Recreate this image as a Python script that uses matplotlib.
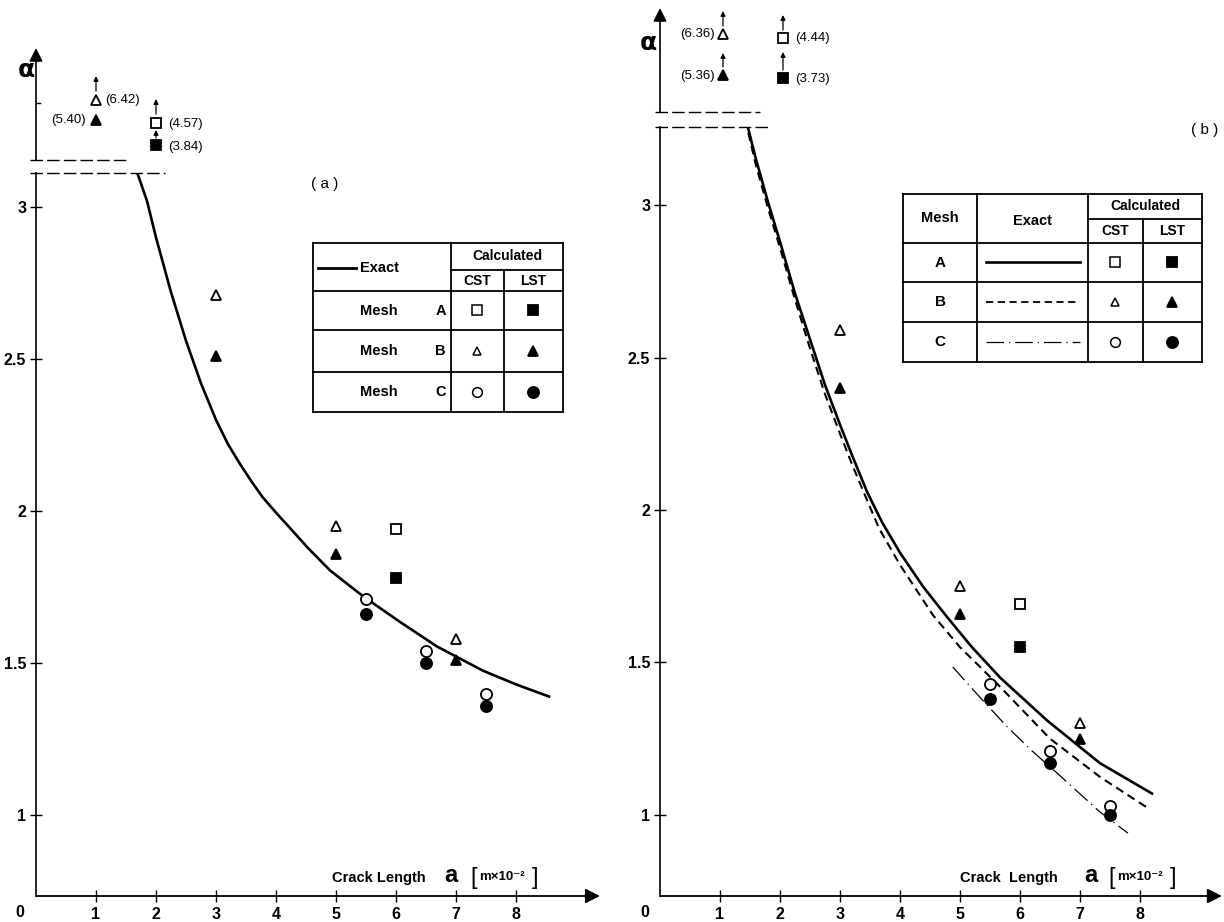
import matplotlib.pyplot as plt

plt.rcParams['font.family'] = ['Liberation Sans', 'DejaVu Sans']
plt.rcParams['font.weight'] = 'bold'

W, H = 1224, 922

crack_ticks = [1, 2, 3, 4, 5, 6, 7, 8]
k_ticks = [1, 1.5, 2, 2.5, 3]
k_tick_labels = ['1', '1.5', '2', '2.5', '3']

# ---------- panel (a)
a_exact_x = [1.64, 1.85, 2.0, 2.25, 2.5, 2.75, 3.0, 3.2, 3.4, 3.6, 3.78, 4.0, 4.23, 4.55, 4.9, 5.45, 6.07, 6.68, 7.45, 8.0, 8.55]
a_exact_k = [3.14, 3.02, 2.90, 2.72, 2.56, 2.42, 2.30, 2.22, 2.155, 2.095, 2.045, 1.995, 1.945, 1.875, 1.805, 1.72, 1.635, 1.555, 1.475, 1.43, 1.39]

a_cst_tri_x = [3, 5, 7]
a_cst_tri_k = [2.71, 1.95, 1.58]
a_lst_tri_x = [3, 5, 7]
a_lst_tri_k = [2.51, 1.86, 1.51]
a_cst_sq_x = [6]
a_cst_sq_k = [1.94]
a_lst_sq_x = [6]
a_lst_sq_k = [1.78]
a_cst_circ_x = [5.5, 6.5, 7.5]
a_cst_circ_k = [1.71, 1.54, 1.40]
a_lst_circ_x = [5.5, 6.5, 7.5]
a_lst_circ_k = [1.66, 1.50, 1.36]
# off-scale values (mesh B at a=1, mesh A at a=2)
a_off_tri_x = 1
a_off_tri = (6.42, 5.40)      # CST, LST
a_off_sq_x = 2
a_off_sq = (4.57, 3.84)

# ---------- panel (b)
b_exact_a_x = [1.42, 1.6, 1.8, 2.0, 2.25, 2.5, 2.75, 3.0, 3.2, 3.45, 3.7, 4.0, 4.38, 4.78, 5.2, 5.67, 6.45, 7.33, 8.2]
b_exact_a_k = [3.29, 3.15, 3.01, 2.88, 2.71, 2.56, 2.41, 2.28, 2.18, 2.06, 1.96, 1.86, 1.75, 1.65, 1.55, 1.45, 1.31, 1.17, 1.07]
b_exact_b_x = [1.42, 1.6, 1.8, 2.0, 2.25, 2.5, 2.75, 3.0, 3.2, 3.37, 3.65, 4.0, 4.55, 5.0, 5.62, 6.5, 7.33, 8.15]
b_exact_b_k = [3.28, 3.13, 2.99, 2.86, 2.69, 2.53, 2.38, 2.25, 2.15, 2.07, 1.94, 1.82, 1.655, 1.55, 1.43, 1.25, 1.125, 1.02]
b_exact_c_x = [4.88, 5.22, 5.78, 6.2, 6.63, 7.33, 7.8]
b_exact_c_k = [1.485, 1.41, 1.29, 1.21, 1.135, 1.01, 0.94]

b_cst_tri_x = [3, 5, 7]
b_cst_tri_k = [2.59, 1.75, 1.30]
b_lst_tri_x = [3, 5, 7]
b_lst_tri_k = [2.40, 1.66, 1.25]
b_cst_sq_x = [6]
b_cst_sq_k = [1.69]
b_lst_sq_x = [6]
b_lst_sq_k = [1.55]
b_cst_circ_x = [5.5, 6.5, 7.5]
b_cst_circ_k = [1.43, 1.21, 1.03]
b_lst_circ_x = [5.5, 6.5, 7.5]
b_lst_circ_k = [1.38, 1.17, 1.00]
b_off_tri_x = 1.05
b_off_tri = (6.36, 5.36)
b_off_sq_x = 2.05
b_off_sq = (4.44, 3.73)


fig = plt.figure(figsize=(W / 100, H / 100), dpi=100)


def box(x0, y0, x1, y1):
    # pixel box (origin top left) -> figure fraction rect
    return [x0 / W, 1 - y1 / H, (x1 - x0) / W, (y1 - y0) / H]


def mk(ax, x, y, marker, filled, ms=7, mew=1.3):
    ax.plot(x, y, ls='none', marker=marker, ms=ms, mec='k', mew=mew,
            mfc='k' if filled else 'white', zorder=6)


def main_axes(rect, xmax, ylim):
    ax = fig.add_axes(rect)
    ax.set_xlim(0, xmax)
    ax.set_ylim(*ylim)
    for s in ('top', 'right', 'bottom'):
        ax.spines[s].set_visible(False)
    ax.spines['left'].set_linewidth(1.2)
    ax.annotate('', xy=(1, 0), xytext=(0, 0), xycoords='axes fraction',
                arrowprops=dict(arrowstyle='-|>', lw=1.3, color='k',
                                mutation_scale=22, shrinkA=0, shrinkB=0))
    ax.set_xticks(crack_ticks)
    ax.set_yticks(k_ticks)
    ax.set_yticklabels(k_tick_labels)
    ax.tick_params(direction='inout', length=8, width=1, labelsize=11.5, pad=3)
    ax.tick_params(axis='x', pad=4)
    ax.patch.set_alpha(0)
    return ax


def top_axes(rect, xmax, ylim):
    ax = fig.add_axes(rect)
    ax.set_xlim(0, xmax)
    ax.set_ylim(*ylim)      # pixel-like units, inverted
    ax.axis('off')
    ax.annotate('', xy=(0, 1), xytext=(0, 0), xycoords='axes fraction',
                arrowprops=dict(arrowstyle='-|>', lw=1.2, color='k',
                                mutation_scale=20, shrinkA=0, shrinkB=0))
    return ax


def up_arrow(ax, x, y0, y1):
    ax.annotate('', xy=(x, y1), xytext=(x, y0),
                arrowprops=dict(arrowstyle='-|>', lw=0.9, color='k',
                                mutation_scale=7, shrinkA=0, shrinkB=0))


# ---------------- panel (a)
axA = main_axes(box(36, 173, 600, 896), 9.4, (0.734, 3.112))
axA.plot(a_exact_x, a_exact_k, color='k', lw=1.9)
mk(axA, a_cst_tri_x, a_cst_tri_k, '^', False)
mk(axA, a_lst_tri_x, a_lst_tri_k, '^', True)
mk(axA, a_cst_sq_x, a_cst_sq_k, 's', False)
mk(axA, a_lst_sq_x, a_lst_sq_k, 's', True)
mk(axA, a_cst_circ_x, a_cst_circ_k, 'o', False, ms=8)
mk(axA, a_lst_circ_x, a_lst_circ_k, 'o', True, ms=8)

tA = top_axes(box(36, 48, 600, 160), 9.4, (160, 48))
tA.plot([-0.07, 0.07], [103, 103], color='k', lw=1)
mk(tA, [a_off_tri_x], [100], '^', False)
mk(tA, [a_off_tri_x], [120], '^', True)
mk(tA, [a_off_sq_x], [123], 's', False)
mk(tA, [a_off_sq_x], [145], 's', True)
up_arrow(tA, a_off_tri_x, 91, 76)
up_arrow(tA, a_off_sq_x, 114, 99)
up_arrow(tA, a_off_sq_x, 138, 130)
tA.text(a_off_tri_x + 0.15, 100, '(%.2f)' % a_off_tri[0], fontsize=9.5,
        fontweight='normal', va='center', ha='left')
tA.text(a_off_tri_x - 0.17, 120, '(%.2f)' % a_off_tri[1], fontsize=9.5,
        fontweight='normal', va='center', ha='right')
tA.text(a_off_sq_x + 0.2, 124, '(%.2f)' % a_off_sq[0], fontsize=9.5,
        fontweight='normal', va='center', ha='left')
tA.text(a_off_sq_x + 0.2, 147, '(%.2f)' % a_off_sq[1], fontsize=9.5,
        fontweight='normal', va='center', ha='left')

# ---------------- panel (b)
axB = main_axes(box(660, 127, 1222, 896), 9.367, (0.734, 3.256))
axB.plot(b_exact_a_x, b_exact_a_k, color='k', lw=1.9)
axB.plot(b_exact_b_x, b_exact_b_k, color='k', lw=1.5, ls=(0, (4, 2.5)))
axB.plot(b_exact_c_x, b_exact_c_k, color='k', lw=0.9, ls=(0, (14, 4, 1, 4)))
mk(axB, b_cst_tri_x, b_cst_tri_k, '^', False)
mk(axB, b_lst_tri_x, b_lst_tri_k, '^', True)
mk(axB, b_cst_sq_x, b_cst_sq_k, 's', False)
mk(axB, b_lst_sq_x, b_lst_sq_k, 's', True)
mk(axB, b_cst_circ_x, b_cst_circ_k, 'o', False, ms=8)
mk(axB, b_lst_circ_x, b_lst_circ_k, 'o', True, ms=8)

tB = top_axes(box(660, 8, 1222, 112), 9.367, (112, 8))
mk(tB, [b_off_tri_x], [34], '^', False)
mk(tB, [b_off_tri_x], [75], '^', True)
mk(tB, [b_off_sq_x], [38], 's', False)
mk(tB, [b_off_sq_x], [78], 's', True)
up_arrow(tB, b_off_tri_x, 26, 11)
up_arrow(tB, b_off_tri_x, 67, 53)
up_arrow(tB, b_off_sq_x, 30, 15)
up_arrow(tB, b_off_sq_x, 70, 52)
tB.text(b_off_tri_x - 0.13, 34, '(%.2f)' % b_off_tri[0], fontsize=9.5,
        fontweight='normal', va='center', ha='right')
tB.text(b_off_tri_x - 0.13, 76, '(%.2f)' % b_off_tri[1], fontsize=9.5,
        fontweight='normal', va='center', ha='right')
tB.text(b_off_sq_x + 0.2, 38, '(%.2f)' % b_off_sq[0], fontsize=9.5,
        fontweight='normal', va='center', ha='left')
tB.text(b_off_sq_x + 0.2, 79, '(%.2f)' % b_off_sq[1], fontsize=9.5,
        fontweight='normal', va='center', ha='left')

# ---------------- overlay in pixel units: breaks, tables, labels
ov = fig.add_axes([0, 0, 1, 1])
ov.set_xlim(0, W)
ov.set_ylim(H, 0)
ov.axis('off')

dash = dict(color='k', lw=1, ls=(0, (9, 3)))
ov.plot([30, 130], [160, 160], **dash)
ov.plot([30, 165], [173, 173], **dash)
ov.plot([655, 760], [112, 112], **dash)
ov.plot([655, 768], [127, 127], **dash)

ov.text(20, 912, '0', fontsize=11.5, ha='center', va='center')
ov.text(645, 912, '0', fontsize=11.5, ha='center', va='center')
ov.text(26, 70, 'α', fontsize=18, ha='center', va='center', family='DejaVu Sans')
ov.text(648, 43, 'α', fontsize=18, ha='center', va='center', family='DejaVu Sans')
ov.text(325, 184, '( a )', fontsize=11, fontweight='normal', ha='center', va='center')
ov.text(1205, 130, '( b )', fontsize=11, fontweight='normal', ha='center', va='center')

# axis titles
for x0, xa, xb, txt in ((332, 444, 470, 'Crack Length'), (960, 1084, 1108, 'Crack  Length')):
    ov.text(x0, 882, txt, fontsize=10.5, ha='left', va='baseline')
    ov.text(xa, 882, 'a', fontsize=17, ha='left', va='baseline')
    ov.text(xb, 884, '[', fontsize=17, fontweight='normal', ha='left', va='baseline')
    ov.text(xb + 9, 880, 'm×10⁻²', fontsize=9.5, ha='left', va='baseline')
    ov.text(xb + 62, 884, ']', fontsize=17, fontweight='normal', ha='left', va='baseline')

lw_t = 1.3


def hline(y, x0, x1):
    ov.plot([x0, x1], [y, y], color='k', lw=lw_t)


def vline(x, y0, y1):
    ov.plot([x, x], [y0, y1], color='k', lw=lw_t)


# table (a)
tx = [313, 451, 504, 563]
ty = [243, 270, 291, 330, 372, 412]
hline(ty[0], tx[0], tx[3])
hline(ty[-1], tx[0], tx[3])
for y in ty[2:5]:
    hline(y, tx[0], tx[3])
hline(ty[1], tx[1], tx[3])
vline(tx[0], ty[0], ty[-1])
vline(tx[1], ty[0], ty[-1])
vline(tx[2], ty[1], ty[-1])
vline(tx[3], ty[0], ty[-1])
ov.plot([318, 356], [268, 268], color='k', lw=2)
ov.text(360, 268, 'Exact', fontsize=10.5, ha='left', va='center')
ov.text(507, 256, 'Calculated', fontsize=10, ha='center', va='center')
ov.text(477, 281, 'CST', fontsize=10, ha='center', va='center')
ov.text(533, 281, 'LST', fontsize=10, ha='center', va='center')
rows_a = [(ty[2] + ty[3]) / 2, (ty[3] + ty[4]) / 2, (ty[4] + ty[5]) / 2]
for yc, m, mark, ms in zip(rows_a, 'ABC', ['s', '^', 'o'], [6.5, 6, 7]):
    ov.text(360, yc, 'Mesh', fontsize=10.5, ha='left', va='center')
    ov.text(446, yc, m, fontsize=10.5, ha='right', va='center')
    mk(ov, [477], [yc], mark, False, ms=ms, mew=1.1)
    mk(ov, [533], [yc], mark, True, ms=ms + 1)

# table (b)
ux = [903, 977, 1088, 1143, 1202]
uy = [194, 219, 243, 282, 322, 362]
hline(uy[0], ux[0], ux[4])
hline(uy[-1], ux[0], ux[4])
for y in uy[2:5]:
    hline(y, ux[0], ux[4])
hline(uy[1], ux[2], ux[4])
for x in (ux[0], ux[1], ux[2], ux[4]):
    vline(x, uy[0], uy[-1])
vline(ux[3], uy[1], uy[-1])
ov.text(940, 218, 'Mesh', fontsize=10.5, ha='center', va='center')
ov.text(1032, 221, 'Exact', fontsize=10.5, ha='center', va='center')
ov.text(1145, 206, 'Calculated', fontsize=10, ha='center', va='center')
ov.text(1115, 231, 'CST', fontsize=10, ha='center', va='center')
ov.text(1172, 231, 'LST', fontsize=10, ha='center', va='center')
rows_b = [(uy[2] + uy[3]) / 2, (uy[3] + uy[4]) / 2, (uy[4] + uy[5]) / 2]
styles_b = [dict(lw=1.9, ls='-'), dict(lw=1.3, ls=(0, (4, 2.5))),
            dict(lw=0.9, ls=(0, (14, 4, 1, 4)))]
for yc, m, mark, ms, st in zip(rows_b, 'ABC', ['s', '^', 'o'], [6.5, 6, 7], styles_b):
    ov.text(940, yc, m, fontsize=11, ha='center', va='center')
    ov.plot([986, 1080], [yc, yc], color='k', **st)
    mk(ov, [1115], [yc], mark, False, ms=ms, mew=1.1)
    mk(ov, [1172], [yc], mark, True, ms=ms + 1)

fig.savefig('out.png', dpi=100)
